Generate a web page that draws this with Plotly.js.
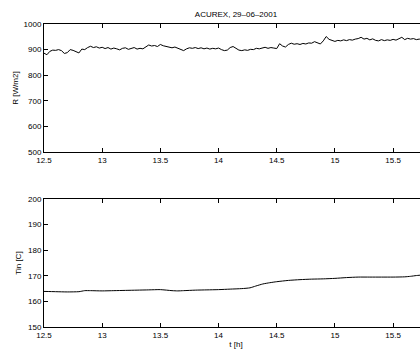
<!DOCTYPE html>
<html>
<head>
<meta charset="utf-8">
<script src="https://cdn.plot.ly/plotly-3.0.1.min.js"></script>
<style>
html,body{margin:0;padding:0;width:420px;height:352px;overflow:hidden;background:#fff;}
#chart{width:440px;height:352px;}
</style>
</head>
<body>
<div id="chart"></div>
<script>
// Irradiance R [W/m2] sampled every 0.025 h from 12.5 to 15.8
const tR = [12.500,12.525,12.550,12.575,12.600,12.625,12.650,12.675,12.700,12.725,12.750,12.775,12.800,12.825,12.850,12.875,12.900,12.925,12.950,12.975,
13.000,13.025,13.050,13.075,13.100,13.125,13.150,13.175,13.200,13.225,13.250,13.275,13.300,13.325,13.350,13.375,13.400,13.425,13.450,13.475,
13.500,13.525,13.550,13.575,13.600,13.625,13.650,13.675,13.700,13.725,13.750,13.775,13.800,13.825,13.850,13.875,13.900,13.925,13.950,13.975,
14.000,14.025,14.050,14.075,14.100,14.125,14.150,14.175,14.200,14.225,14.250,14.275,14.300,14.325,14.350,14.375,14.400,14.425,14.450,14.475,
14.500,14.525,14.550,14.575,14.600,14.625,14.650,14.675,14.700,14.725,14.750,14.775,14.800,14.825,14.850,14.875,14.900,14.925,14.950,14.975,
15.000,15.025,15.050,15.075,15.100,15.125,15.150,15.175,15.200,15.225,15.250,15.275,15.300,15.325,15.350,15.375,15.400,15.425,15.450,15.475,
15.500,15.525,15.550,15.575,15.600,15.625,15.650,15.675,15.700,15.725,15.750,15.775,15.800];
const R = [886,880,893,898,897,900,896,885,888,900,897,891,887,902,900,908,913,908,911,906,
909,904,908,902,906,903,899,905,907,901,904,908,902,905,903,912,918,914,916,912,
920,915,913,911,907,910,906,899,896,903,907,905,908,904,907,903,906,902,905,903,
906,900,896,898,908,912,906,898,896,899,897,901,900,905,903,907,909,905,908,906,
904,923,914,910,920,925,921,923,920,924,922,926,925,931,926,922,934,951,940,935,
932,936,934,938,935,939,937,941,943,948,941,944,938,942,936,934,939,935,938,936,
940,937,942,948,939,944,941,943,939,941,938,940,937];

// Inlet temperature Tin [C]
const tT = [12.5,12.6,12.7,12.8,12.85,12.9,13.0,13.1,13.2,13.3,13.4,13.5,13.6,13.65,13.7,13.8,13.9,14.0,14.1,14.2,14.27,14.32,14.38,14.44,14.5,14.6,14.7,14.8,14.9,15.0,15.1,15.2,15.3,15.4,15.5,15.6,15.65,15.7,15.8];
const Tin = [163.9,163.8,163.7,163.8,164.2,164.2,164.1,164.2,164.3,164.4,164.5,164.6,164.2,164.1,164.2,164.4,164.5,164.6,164.8,165.0,165.3,166.0,166.8,167.3,167.7,168.2,168.5,168.7,168.8,169.0,169.3,169.5,169.5,169.5,169.5,169.6,169.8,170.1,170.5];

const xTickVals = [12.5,13,13.5,14,14.5,15,15.5];
const xTickText = ["12.5","13","13.5","14","14.5","15","15.5"];

const font = {family: "Liberation Sans, Arial, Helvetica, sans-serif", size: 8, color: "#000"};

const axBase = {
  showline: true, linecolor: "#000", linewidth: 1, mirror: "allticks",
  ticks: "inside", ticklen: 4, tickcolor: "#000", tickwidth: 1,
  showgrid: false, zeroline: false, tickfont: font
};

const traces = [
  {x: tR, y: R, type: "scatter", mode: "lines", line: {color: "#000", width: 1}, xaxis: "x", yaxis: "y", showlegend: false, hoverinfo: "skip"},
  {x: tT, y: Tin, type: "scatter", mode: "lines", line: {color: "#000", width: 1, shape: "spline", smoothing: 0.6}, xaxis: "x2", yaxis: "y2", showlegend: false, hoverinfo: "skip"}
];

const layout = {
  width: 440, height: 352,
  margin: {l: 44, r: 12, t: 24, b: 25},
  paper_bgcolor: "#fff", plot_bgcolor: "#fff",
  font: font,
  showlegend: false,
  title: {text: "ACUREX, 29\u201306\u20132001", font: font, xref: "paper", x: 0.5, xanchor: "center", yref: "container", y: 1 - 14/352, yanchor: "middle"},
  xaxis: Object.assign({}, axBase, {domain: [0, 1], range: [12.5, 15.8], tickvals: xTickVals, ticktext: xTickText, anchor: "y"}),
  yaxis: Object.assign({}, axBase, {domain: [0.5776, 1], range: [500, 1000], dtick: 100, tick0: 500, anchor: "x",
    title: {text: "R [W/m2]", font: font, standoff: 3}}),
  xaxis2: Object.assign({}, axBase, {domain: [0, 1], range: [12.5, 15.8], tickvals: xTickVals, ticktext: xTickText, anchor: "y2",
    title: {text: "t [h]", font: font, standoff: 2}}),
  yaxis2: Object.assign({}, axBase, {domain: [0, 0.4224], range: [150, 200], dtick: 10, tick0: 150, anchor: "x2",
    title: {text: "Tin [C]", font: font, standoff: 5}})
};

Plotly.newPlot("chart", traces, layout, {staticPlot: true, displayModeBar: false});
</script>
</body>
</html>
